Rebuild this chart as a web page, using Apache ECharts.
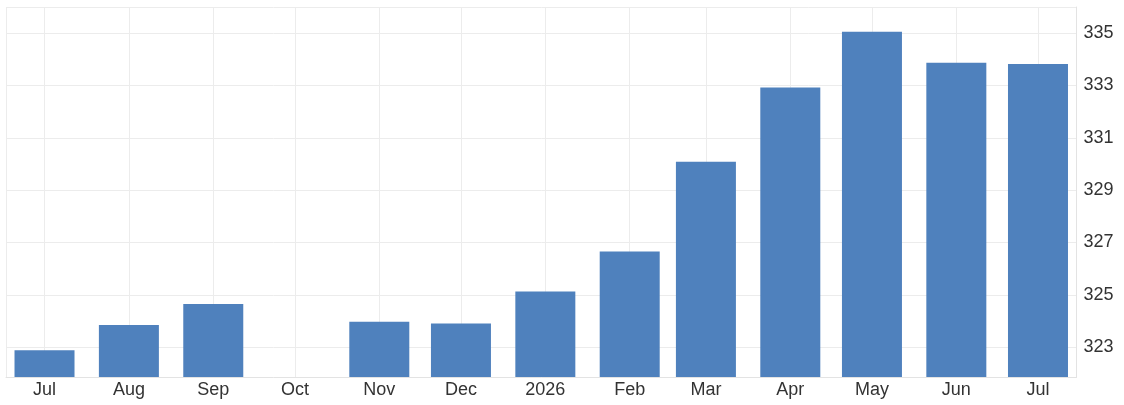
<!DOCTYPE html>
<html>
<head>
<meta charset="utf-8">
<script src="https://cdn.jsdelivr.net/npm/echarts@6/dist/echarts.min.js"></script>
<style>
html,body{margin:0;padding:0;background:#fff;}
#chart{width:1124px;height:405px;}
</style>
</head>
<body>
<div id="chart"></div>
<script>
var months = ['2025-07','2025-08','2025-09','2025-10','2025-11','2025-12','2026-01','2026-02','2026-03','2026-04','2026-05','2026-06','2026-07'];
var tickLabels = ['Jul','Aug','Sep','Oct','Nov','Dec','2026','Feb','Mar','Apr','May','Jun','Jul'];
var values = [322.88, 323.85, 324.65, null, 323.97, 323.90, 325.13, 326.66, 330.09, 332.92, 335.05, 333.87, 333.82];
var yTicks = [323, 325, 327, 329, 331, 333, 335];

function toTs(s){ var p = s.split('-'); return Date.UTC(+p[0], +p[1]-1, 1); }
var ts = months.map(toTs);
var DAY = 86400000;
var xMin = ts[0] - 14.15*DAY;
var xMax = ts[ts.length-1] + 14.15*DAY;

var data = ts.map(function(t,i){ return [t, values[i]]; });

var chart = echarts.init(document.getElementById('chart'), null, {renderer:'canvas'});
chart.setOption({
  animation:false,
  grid:{left:6, right:47.5, top:7, bottom:28, containLabel:false},
  xAxis:{
    type:'value', min:xMin, max:xMax,
    axisLine:{show:true, lineStyle:{color:'#e3e3e3'}},
    axisTick:{show:false, customValues:[xMin].concat(ts)},
    axisLabel:{
      customValues: ts,
      color:'#333', fontSize:18, fontFamily:'Liberation Sans, Arial, sans-serif', margin:4,
      formatter:function(v){ var i = ts.indexOf(v); return i>=0 ? tickLabels[i] : ''; }
    },
    splitLine:{show:true, lineStyle:{color:'#ececec', width:1}}
  },
  yAxis:{
    type:'value', position:'right', min:321.86, max:336, scale:true,
    axisLine:{show:true, lineStyle:{color:'#e3e3e3'}},
    axisTick:{show:false, customValues:yTicks.concat([336])},
    axisLabel:{customValues:yTicks, color:'#333', fontSize:18, fontFamily:'Liberation Sans, Arial, sans-serif', margin:7},
    splitLine:{show:true, lineStyle:{color:'#ececec', width:1}}
  },
  series:[{
    type:'bar', data:data, barWidth:60,
    itemStyle:{color:'#4f81bd'}
  }]
});
</script>
</body>
</html>
